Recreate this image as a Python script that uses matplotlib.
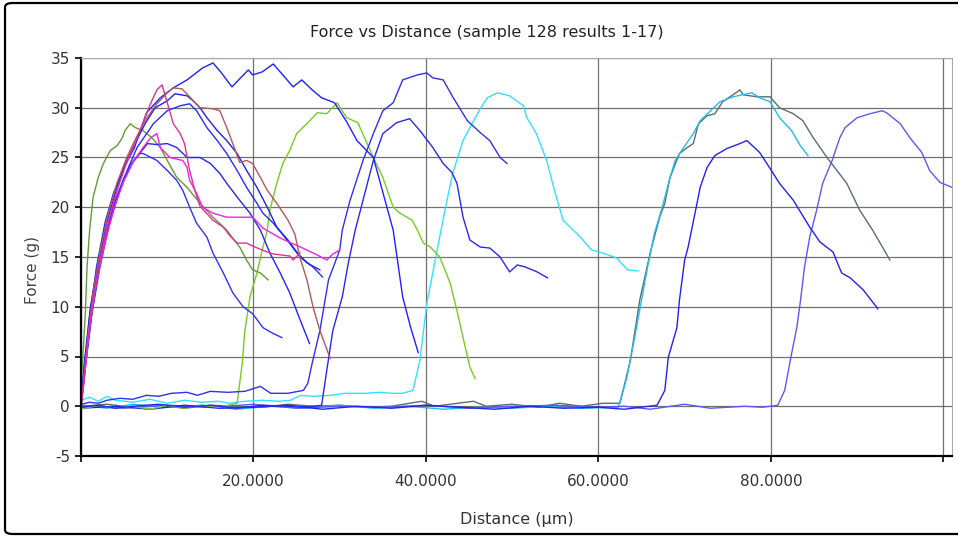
import matplotlib.pyplot as plt
from matplotlib.patches import FancyBboxPatch

plt.rcParams['font.family'] = ['DejaVu Sans']
plt.rcParams['axes.unicode_minus'] = False

# result curves: distance (um) and force (g)
# A - blue, peak ~34
dist_a = [0, 0.4, 1, 1.8, 2.8, 3.8, 5, 6.2, 7.6, 9.2, 10.7, 12.3, 14.1, 15.3, 16.2, 17.5, 19.4, 19.9,
          21, 22.3, 23.4, 24.6, 25.6, 26.8, 27.9, 29.4, 30.8, 32, 33.9, 35, 36.2, 37.3, 38.2, 39.1]
force_a = [0, 4, 9, 14, 18.5, 21.5, 24, 26, 29.5, 31, 32, 32.8, 34, 34.5, 33.6, 32.1, 33.8, 33.3,
           33.6, 34.4, 33.3, 32.1, 32.8, 31.8, 31, 30.5, 28.6, 26.7, 25, 21.5, 17.7, 11, 8, 5.4]

# B - blue, raised baseline, peak ~33
dist_b = [0, 1, 2, 3, 4.5, 6, 7.6, 9, 10.5, 12.3, 13.5, 15, 17, 19, 20.8, 22, 24, 25.8, 26.3, 26.8,
          27.7, 28.7, 30, 30.3, 31.2, 32.7, 33.9, 35, 36.2, 37.3, 39, 40.1, 40.8, 42, 43.1, 44.8,
          46.3, 47.4, 48.6, 49.4]
force_b = [0.2, 0.4, 0.3, 0.6, 0.8, 0.7, 1.1, 1.0, 1.3, 1.4, 1.1, 1.5, 1.4, 1.5, 2.0, 1.3, 1.3, 1.6,
           2.3, 4.3, 7.6, 12.7, 15.7, 17.7, 20.7, 24.7, 27.4, 29.7, 30.5, 32.8, 33.3, 33.5, 33,
           32.8, 31.1, 28.7, 27.5, 26.7, 25, 24.4]

# R - blue, peak ~29
dist_r = [0, 2, 4, 6, 9, 12, 15, 18, 21, 24, 26, 27.9, 28.5, 29.2, 30.3, 31, 31.8, 32.7, 33.9, 35,
          36.6, 38.1, 39.3, 40.8, 42, 43, 43.6, 44.3, 45.1, 46.3, 47.4, 48.6, 49.7, 50.6, 51.5,
          52.9, 54.1]
force_r = [-0.1, 0.1, -0.2, 0, 0.2, -0.1, 0.1, -0.2, 0.1, 0, -0.1, 0.1, 3.6, 7.6, 11, 14.4, 17.7,
           20.7, 24.7, 27.4, 28.5, 28.9, 27.7, 26, 24.4, 23.5, 22.4, 19, 16.7, 16, 15.9, 15, 13.5,
           14.2, 14, 13.5, 12.9]

# C - cyan, raised baseline, peak ~31.5
dist_c = [0, 1, 2, 3, 4, 6, 8, 10, 12, 14, 16, 17.2, 19, 21, 23, 24.3, 25.5, 27, 29, 30.6, 33, 34.6,
          36, 37.3, 38.5, 39.3, 40.1, 41.3, 42.2, 43.1, 44.3, 45.4, 46.3, 47.1, 48.3, 49.7, 51.3,
          51.7, 52.8, 54, 54.9, 55.9, 57.9, 59.2, 60.5, 62.1, 63.4, 64.6]
force_c = [0.6, 0.9, 0.5, 1.0, 0.6, 0.4, 0.7, 0.3, 0.6, 0.4, 0.5, 0.3, 0.5, 0.6, 0.5, 0.6, 1.1, 1.0,
           1.1, 1.3, 1.3, 1.4, 1.3, 1.3, 1.6, 4.6, 10.3, 15.7, 19.7, 23.4, 26.7, 28.5, 29.9, 31,
           31.5, 31.2, 30.2, 29, 27.4, 24.7, 21.7, 18.7, 17, 15.7, 15.4, 14.9, 13.7, 13.6]

# D - sky blue, peak ~31.5
dist_d = [0, 3, 6, 10, 14, 18, 22, 26, 30, 34, 38, 42, 46, 50, 54, 58, 62.3, 63.3, 64.2, 65, 65.7,
          66.5, 67.4, 68.3, 68.9, 69.8, 71, 71.8, 73, 74.1, 75.6, 77.8, 78.7, 79.9, 81, 82.4, 83.4,
          84.3]
force_d = [0.1, -0.2, 0.2, -0.1, 0.1, -0.3, 0, -0.2, 0.1, -0.2, 0, -0.3, -0.1, -0.2, 0, -0.2, -0.1,
           2.9, 6.9, 10.7, 14, 17.4, 20, 23, 24.7, 25.9, 27.4, 28.7, 29.7, 30.6, 31.1, 31.5, 31,
           30.6, 29, 27.7, 26.2, 25.2]

# E - grey, peak ~31.8
dist_e = [0, 3, 6, 9, 12, 15, 18, 21, 24, 27, 30, 33, 36, 39.5, 41, 45.5, 47, 50, 53, 55.5, 58,
          60.5, 62.5, 63.7, 64.8, 66, 67.1, 67.7, 68.3, 69.4, 70.3, 71, 71.6, 72.6, 73.5, 74.4,
          76.1, 76.4, 76.8, 78.4, 79.9, 81, 82.6, 83.7, 84.9, 86.5, 88.8, 90.3, 91.8, 93.8]
force_e = [0, 0.2, -0.1, 0.1, -0.2, 0.1, 0, -0.1, 0.2, 0, 0.1, -0.1, 0, 0.5, 0, 0.5, 0, 0.2, -0.1,
           0.3, 0, 0.3, 0.3, 4.6, 10.7, 15.4, 19, 20.4, 23, 25.4, 26, 26.4, 28.4, 29.2, 29.4, 30.6,
           31.6, 31.8, 31.3, 31.1, 31.1, 30, 29.4, 28.7, 27, 25, 22.4, 19.7, 17.7, 14.7]

# F - blue, peak ~26.7
dist_f = [0, 4, 8, 12, 16, 20, 24, 28, 32, 36, 40, 44, 48, 52, 56, 60, 63, 66.8, 67.7, 68.1, 69.1,
          69.4, 70, 70.4, 71.2, 71.8, 72.6, 73.5, 74.9, 76.4, 77.2, 77.6, 78.7, 79.9, 81, 82.6,
          84.5, 85.7, 87.2, 88.2, 89.2, 90.7, 92.4]
force_f = [-0.2, 0, -0.3, 0.1, -0.2, -0.1, 0.1, -0.3, 0, -0.2, 0.1, -0.1, -0.3, 0, -0.2, -0.1,
           -0.3, 0.1, 1.6, 4.9, 7.9, 10.7, 14.7, 16, 19.4, 22, 24, 25.2, 25.9, 26.4, 26.7, 26.4,
           25.5, 23.9, 22.4, 20.7, 18, 16.5, 15.5, 13.4, 12.9, 11.7, 9.8]

# G - violet blue, late start, peak ~29.7
dist_g = [0, 5, 10, 15, 20, 25, 30, 35, 40, 45, 50, 55, 60, 63, 66, 70, 73, 77, 79, 80.8, 81.6,
          82.4, 83, 83.4, 83.9, 84.5, 85.3, 86, 87.1, 88, 88.6, 90, 91.5, 92.9, 93.4, 95, 96.1,
          97.5, 98.4, 99.6, 101]
force_g = [0.1, -0.2, 0.1, -0.1, 0.2, -0.2, 0, -0.1, 0.1, -0.2, 0, 0.1, -0.1, 0, -0.3, 0.2, -0.2,
           0, -0.1, 0.1, 1.6, 5.3, 7.9, 10.4, 14, 17, 19.7, 22.4, 24.7, 27, 28, 29, 29.4, 29.7,
           29.5, 28.4, 27, 25.5, 23.7, 22.5, 22]

# H - light green, peak ~30.5
dist_h = [0, 2, 4, 6, 8, 10, 12, 14, 16, 18.1, 18.7, 19, 19.6, 20.4, 21.1, 21.6, 21.9, 22.7, 23.4,
          24.2, 25, 26.2, 27.4, 28.5, 29.7, 30.8, 32.1, 33.9, 35, 36.2, 37, 38.4, 39, 39.7, 40.5,
          41.6, 42.8, 43.6, 44.3, 45.1, 45.7]
force_h = [-0.3, 0.1, -0.2, 0, -0.3, 0.1, -0.2, 0.1, -0.1, 0.3, 4.3, 7.6, 11, 13.4, 16, 17.7, 19.7,
           22.4, 24.4, 25.7, 27.4, 28.4, 29.5, 29.4, 30.5, 29, 28.5, 25, 23, 20, 19.4, 18.7, 17.7,
           16.4, 16, 15, 12.4, 9.6, 6.9, 3.9, 2.8]

# I - olive green, early peak ~28.4
dist_i = [0, 0.1, 0.5, 0.7, 1.0, 1.4, 2.0, 2.6, 3.4, 4.2, 4.8, 5.1, 5.7, 6.3, 7.2, 8.2, 9.2, 10,
          11.1, 12.3, 13.8, 15.3, 16.9, 18.4, 19.2, 19.9, 20.8, 21.7]
force_i = [0, 3.3, 9.3, 14, 17.7, 21, 23, 24.4, 25.7, 26.2, 27, 27.7, 28.4, 28, 27.7, 27, 26, 24.7,
           23, 22, 20.4, 19, 17.7, 16, 14.7, 13.7, 13.4, 12.7]

# J - brown, peak ~32
dist_j = [0, 0.3, 0.8, 1.5, 2.3, 3.2, 4.2, 5.3, 6.4, 7.5, 8.7, 10, 10.7, 11.7, 12.6, 13.8, 15.3,
          16.1, 16.9, 17.6, 18.4, 19.2, 19.9, 20.8, 21.6, 22.7, 24, 24.8, 25.4, 26.2, 26.9, 27.7,
          28.9]
force_j = [0, 2.5, 7, 12, 16, 19.5, 22.5, 25, 27, 28.8, 30.3, 31.5, 32, 31.9, 31.1, 30, 29.9, 29.7,
           28, 26.4, 24.5, 24.7, 24.4, 23, 21.7, 20.4, 18.7, 17.3, 14.9, 12.7, 10, 7.6, 4.8]

# K - magenta, peak ~27.4
dist_k = [0, 0.4, 1, 1.8, 2.8, 3.8, 4.9, 6, 7.2, 8.1, 8.8, 9.2, 10.3, 11.8, 12.3, 12.6, 13.4, 14.1,
          15.3, 16.9, 18.4, 19.9, 21.1, 23.1, 25.7, 27.4, 28.5, 29.2, 30]
force_k = [0, 3, 8, 12.5, 16.5, 19.8, 22.5, 24.5, 26, 27, 27.4, 26, 25, 24.7, 24, 22.7, 21.4, 20,
           19.4, 19, 19, 19, 17.9, 16.9, 15.9, 15.2, 14.7, 15.3, 15.7]

# L - pink, peak ~32.3
dist_l = [0, 0.3, 0.8, 1.5, 2.4, 3.3, 4.3, 5.3, 6.3, 7.2, 8.1, 8.8, 9.4, 10, 10.7, 11.5, 12, 12.6,
          13.2, 13.8, 15.3, 16.5, 17.3, 18.1, 19.2, 19.9, 21.6, 22.3, 24.2, 24.6, 25.4]
force_l = [0, 2, 6.5, 11, 15.5, 19, 22, 24.5, 26.5, 28.5, 30.5, 31.8, 32.3, 30.5, 28.4, 27.4, 26.4,
           23.7, 21.7, 20.1, 18.7, 18, 17.1, 16.4, 16.4, 16.1, 15.5, 15.3, 15.1, 14.7, 15.4]

# M - blue, peak ~25.4
dist_m = [0, 0.4, 1.1, 1.9, 2.9, 3.9, 5, 6, 6.8, 7.2, 8.8, 10, 11.1, 11.8, 12.6, 13.4, 14.6, 15.3,
          16.5, 17.6, 18.8, 19.9, 21.1, 22.3, 23.3]
force_m = [0, 4, 9, 13.5, 17.5, 20.5, 23, 24.6, 25.4, 25.4, 24.7, 23.7, 22.7, 21.7, 20, 18.4, 17,
           15.4, 13.4, 11.4, 10, 9.3, 7.9, 7.3, 6.9]

# N - blue, peak ~26.5
dist_n = [0, 0.5, 1.2, 2, 3, 4, 5, 6, 7.7, 8.8, 10, 11.1, 12.3, 13.8, 15, 16.1, 16.9, 18.4, 19.6,
          20.8, 21.9, 23.1, 24.2, 25.4, 26.5]
force_n = [0, 4, 9, 13.5, 17.5, 20.5, 22.8, 24.5, 26.4, 26.3, 26.4, 26, 25, 25, 24.4, 23.4, 22.4,
           20.7, 19.4, 17.7, 15.4, 13.4, 11.4, 8.7, 6.3]

# O - blue, peak ~30.4
dist_o = [0, 0.5, 1.3, 2.2, 3.2, 4.4, 5.5, 6.5, 8.4, 10, 11.5, 12.6, 13.4, 14.6, 15.8, 16.9, 18.1,
          19.2, 20.4, 21.1, 22.3, 23.9, 25.4, 26.9, 28]
force_o = [0, 4, 9.5, 14, 18, 21.5, 24, 26, 28.4, 29.7, 30.2, 30.4, 29.7, 28, 26.7, 25.4, 23.7, 22,
           20.4, 19.4, 18.4, 16.7, 15, 14, 13]

# P - blue, peak ~31.4
dist_p = [0, 0.4, 1.1, 2, 3, 4.1, 5.2, 6.3, 7.5, 8.6, 10, 10.9, 12.3, 13, 13.8, 14.6, 15.8, 16.9,
          18.1, 19.2, 20.4, 21.6, 22.7, 24, 25.1, 26.2, 27.7]
force_p = [0, 4.5, 10, 14.5, 18.5, 21.8, 24.5, 26.5, 28.5, 30, 30.7, 31.4, 31.2, 30.7, 30, 29,
           27.7, 26.7, 25.4, 23.7, 22, 20, 18, 16.7, 15.4, 14.4, 13.7]

y_ticks = [-5, 0, 5, 10, 15, 20, 25, 30, 35]
x_ticks = [0, 20, 40, 60, 80, 100]
x_tick_labels = ['', '20.0000', '40.0000', '60.0000', '80.0000', '']

curves = [
    (dist_e, force_e, '#5a6e6e'),
    (dist_d, force_d, '#22bbf0'),
    (dist_c, force_c, '#33e0ff'),
    (dist_g, force_g, '#5a5af0'),
    (dist_f, force_f, '#2222ee'),
    (dist_h, force_h, '#77cc22'),
    (dist_r, force_r, '#2828f0'),
    (dist_b, force_b, '#3030f0'),
    (dist_i, force_i, '#669933'),
    (dist_a, force_a, '#2020ff'),
    (dist_m, force_m, '#3030ff'),
    (dist_n, force_n, '#2525f5'),
    (dist_o, force_o, '#2a2aff'),
    (dist_p, force_p, '#2020f0'),
    (dist_j, force_j, '#b05a5a'),
    (dist_k, force_k, '#ee22ee'),
    (dist_l, force_l, '#dd3399'),
]

fig = plt.figure(figsize=(9.58, 5.38), dpi=100)
ax = fig.add_axes([81 / 958, 1 - 456 / 538, 871 / 958, 398 / 538])

for xs, ys, col in curves:
    ax.plot(xs, ys, color=col, lw=1.0)

ax.set_xlim(0, 101)
ax.set_ylim(-5, 35)
ax.set_yticks(y_ticks)
ax.set_xticks(x_ticks)
ax.set_xticklabels(x_tick_labels)
ax.grid(True, color='#707070', lw=0.9)
ax.set_axisbelow(True)
ax.tick_params(direction='out', length=4, width=1.2, labelsize=11, labelcolor='#333333')
ax.tick_params(axis='x', pad=9)
ax.tick_params(axis='y', pad=4)
for s in ['left', 'bottom']:
    ax.spines[s].set_linewidth(1.6)
for s in ['top', 'right']:
    ax.spines[s].set_color('#aaaaaa')

ax.set_xlabel('Distance (\u00b5m)', fontsize=11.5, color='#333333')
ax.xaxis.set_label_coords(0.5, -0.141)
ax.set_ylabel('Force (g)', fontsize=11, color='#444444')
ax.yaxis.set_label_coords(-0.047, 0.467)
fig.text(487 / 958, 1 - 33 / 538, 'Force vs Distance (sample 128 results 1-17)',
         ha='center', va='center', fontsize=11.5, color='#222222')

box = FancyBboxPatch((5 / 958, 4 / 538), 1.1, 531 / 538, boxstyle='round,pad=0,rounding_size=0.008',
                     transform=fig.transFigure, fill=False, ec='black', lw=1.6, clip_on=False)
fig.patches.append(box)

plt.savefig('out.png', dpi=100)
